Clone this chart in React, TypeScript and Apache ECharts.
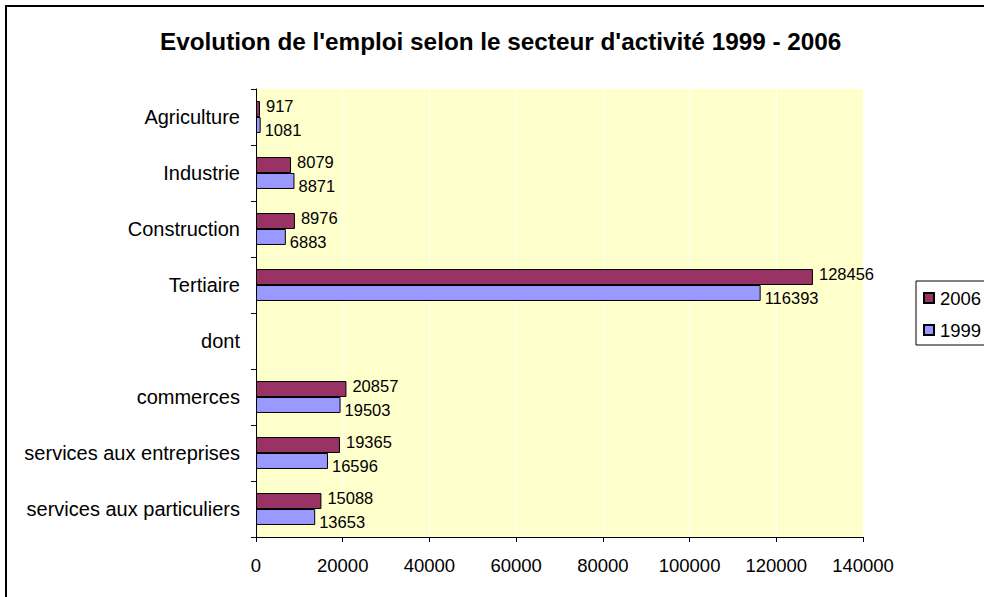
import React, { useEffect, useRef } from "react";
import * as echarts from "echarts";

const categories = [
  "Agriculture",
  "Industrie",
  "Construction",
  "Tertiaire",
  "dont",
  "commerces",
  "services aux entreprises",
  "services aux particuliers",
];
const values2006 = [917, 8079, 8976, 128456, null, 20857, 19365, 15088];
const values1999 = [1081, 8871, 6883, 116393, null, 19503, 16596, 13653];
const seriesNames = ["2006", "1999"];
const xTicks = { min: 0, max: 140000, interval: 20000 };
const titleText = "Evolution de l'emploi selon le secteur d'activité 1999 - 2006";

const FONT = "'Liberation Sans', Arial, sans-serif";

export default function App() {
  const ref = useRef<HTMLDivElement>(null);
  useEffect(() => {
    document.body.style.margin = "0";
    const chart = echarts.init(ref.current!, null, { renderer: "svg" });
    chart.setOption({
      animation: false,
      backgroundColor: "#ffffff",
      textStyle: { fontFamily: FONT, color: "#000" },
      title: {
        text: titleText,
        left: 155,
        top: 24,
        textStyle: { fontFamily: FONT, fontSize: 24.3, fontWeight: "bold", color: "#000" },
      },
      graphic: [
        {
          type: "rect",
          shape: { x: 6, y: 6, width: 1000, height: 700 },
          style: { fill: "none", stroke: "#000", lineWidth: 2 },
          silent: true,
        },
      ],
      legend: {
        orient: "vertical",
        left: 916,
        top: 281,
        data: seriesNames,
        icon: "rect",
        itemWidth: 10,
        itemHeight: 10,
        itemGap: 12,
        padding: [7, 60, 5, 7],
        borderColor: "#000",
        borderWidth: 1,
        backgroundColor: "#fff",
        textStyle: { fontFamily: FONT, fontSize: 18.5, color: "#000", lineHeight: 20, padding: [0, 0, 0, 1] },
      },
      grid: {
        left: 256,
        top: 89,
        width: 607,
        height: 448,
        show: true,
        backgroundColor: "#FFFFCC",
        borderWidth: 0,
      },
      xAxis: {
        type: "value",
        min: xTicks.min,
        max: xTicks.max,
        interval: xTicks.interval,
        axisLine: { show: true, lineStyle: { color: "#000", width: 1 } },
        axisTick: { show: true, length: 5, lineStyle: { color: "#000" } },
        splitLine: { show: true, lineStyle: { color: "#ffffff", width: 1 } },
        axisLabel: {
          fontFamily: FONT,
          fontSize: 18.5,
          color: "#000",
          margin: 19,
          formatter: (v: number) => String(v),
        },
      },
      yAxis: {
        type: "category",
        inverse: true,
        data: categories,
        axisLine: { show: true, lineStyle: { color: "#000", width: 1 } },
        axisTick: { show: true, length: 5, inside: false, lineStyle: { color: "#000" } },
        axisLabel: { fontFamily: FONT, fontSize: 20, color: "#000", margin: 16 },
        splitLine: { show: false },
      },
      series: [
        {
          name: seriesNames[0],
          type: "bar",
          data: values2006,
          barGap: "0%",
          barCategoryGap: "43%",
          itemStyle: { color: "#993366", borderColor: "#000", borderWidth: 1 },
          label: {
            show: true,
            position: "right",
            distance: 6,
            offset: [0, -3],
            fontFamily: FONT,
            fontSize: 16.5,
            color: "#000",
          },
        },
        {
          name: seriesNames[1],
          type: "bar",
          data: values1999,
          barGap: "0%",
          barCategoryGap: "43%",
          itemStyle: { color: "#9999FF", borderColor: "#000", borderWidth: 1 },
          label: {
            show: true,
            position: "right",
            distance: 4,
            offset: [0, 5],
            fontFamily: FONT,
            fontSize: 16.5,
            color: "#000",
          },
        },
      ],
    });
    return () => chart.dispose();
  }, []);
  return (
    <div
      ref={ref}
      style={{ position: "absolute", left: 0, top: 0, width: 984, height: 597 }}
    />
  );
}
